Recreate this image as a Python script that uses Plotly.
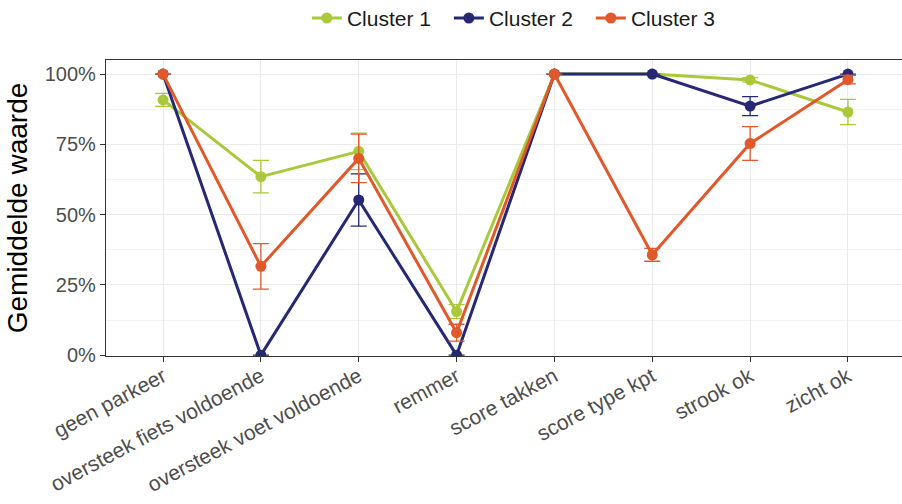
import plotly.graph_objects as go

categories = ["geen parkeer", "oversteek fiets voldoende", "oversteek voet voldoende",
              "remmer", "score takken", "score type kpt", "strook ok", "zicht ok"]

cluster1 = [90.8, 63.5, 72.5, 15.5, 100, 100, 97.9, 86.5]
cluster1_err = [2.3, 5.8, 6.5, 2.5, 0, 0, 0.8, 4.5]

cluster2 = [100, 0, 55.2, 0, 100, 100, 88.6, 100]
cluster2_err = [0, 0, 9.3, 0, 0, 0, 3.4, 0]

cluster3 = [100, 31.6, 70.0, 8.0, 100, 35.7, 75.3, 98.0]
cluster3_err = [0, 8.1, 8.6, 3.0, 0, 2.3, 6.0, 1.5]

y_ticks = [0, 25, 50, 75, 100]
y_tick_labels = ["0%", "25%", "50%", "75%", "100%"]

series = [
    ("Cluster 1", cluster1, cluster1_err, "#a9c93a"),
    ("Cluster 2", cluster2, cluster2_err, "#262873"),
    ("Cluster 3", cluster3, cluster3_err, "#e1582b"),
]

fig = go.Figure()
for name, vals, errs, col in series:
    fig.add_trace(go.Scatter(
        x=list(range(len(categories))), y=vals, name=name, mode="lines+markers",
        line=dict(color=col, width=3), marker=dict(color=col, size=11),
        error_y=dict(type="data", array=errs, visible=True, color=col, thickness=1.3, width=8),
    ))

fig.update_layout(
    width=905, height=504,
    margin=dict(l=106, r=0, t=60, b=148, autoexpand=False),
    paper_bgcolor="white", plot_bgcolor="white",
    font=dict(family="Liberation Sans, Arial, sans-serif", size=20, color="#4d4d4d"),
    showlegend=True,
    legend=dict(orientation="h", xref="paper", yref="paper", x=0.518, xanchor="center",
                y=1.21, yanchor="top", font=dict(size=21, color="#1a1a1a"),
                itemwidth=30, entrywidth=97, traceorder="normal"),
    xaxis=dict(
        range=[-0.583, 7.583], tickmode="array", tickvals=list(range(len(categories))),
        ticktext=categories, tickangle=-28, showgrid=True, gridcolor="#ebebeb", gridwidth=1,
        ticks="outside", ticklen=5, tickcolor="#333333", showline=True, linecolor="#333333",
        linewidth=1.3, mirror=True, zeroline=False, ticklabelstandoff=-6,
        tickfont=dict(size=21, color="#4d4d4d"),
    ),
    yaxis=dict(
        range=[-0.3, 105], tickmode="array", tickvals=y_ticks, ticktext=y_tick_labels,
        showgrid=True, gridcolor="#ebebeb", gridwidth=1,
        minor=dict(tickvals=[12.5, 37.5, 62.5, 87.5], showgrid=True, gridcolor="#f3f3f3", gridwidth=1),
        ticks="outside", ticklen=5, tickcolor="#333333", showline=True, linecolor="#333333",
        linewidth=1.3, mirror=True, zeroline=False,
        tickfont=dict(size=20, color="#4d4d4d"),
        title=dict(text="Gemiddelde waarde", font=dict(size=28, color="#000000"), standoff=8),
    ),
)

fig.write_html("out.html", config={"displayModeBar": False},
               post_script="document.body.style.margin='0';document.body.style.overflow='hidden';")
